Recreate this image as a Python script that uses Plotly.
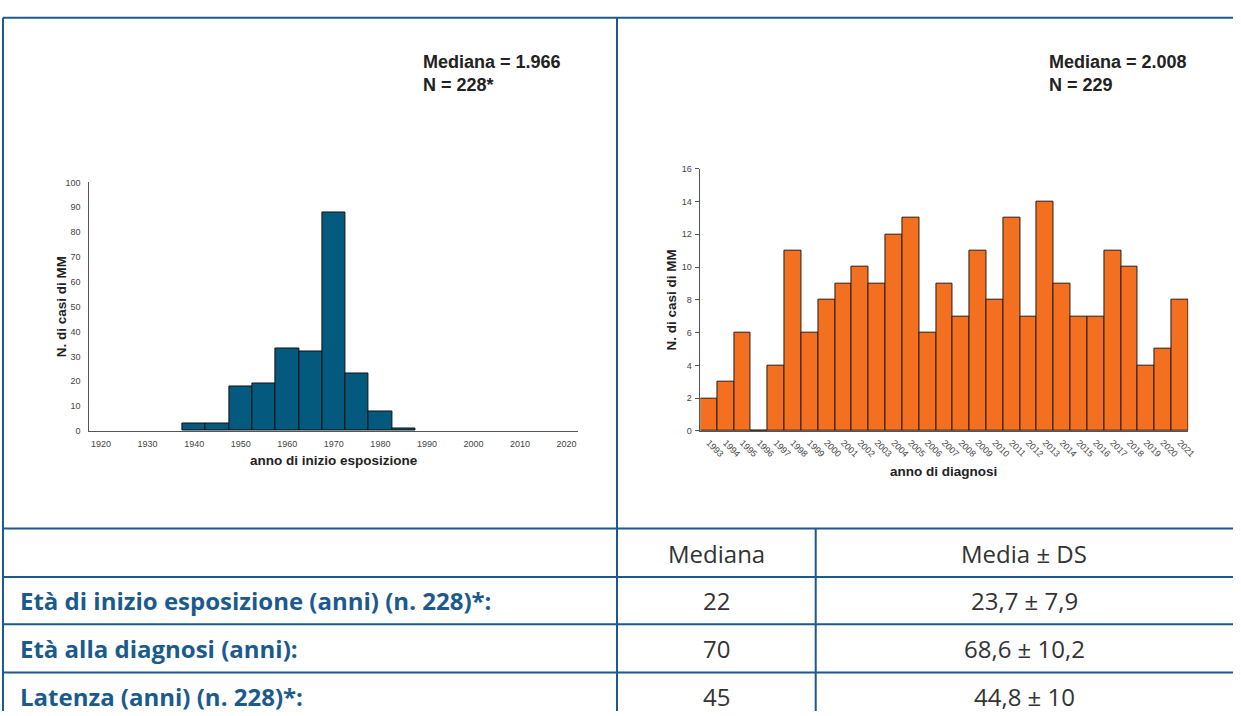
import plotly.graph_objects as go

# anno di inizio esposizione (5-year bins, centre of bin) -> N. casi
exposure_bins = [1940, 1945, 1950, 1955, 1960, 1965, 1970, 1975, 1980, 1985]
exposure_counts = [3, 3, 18, 19, 33, 32, 88, 23, 8, 1]

# anno di diagnosi -> N. casi
diagnosis_years = [str(y) for y in range(1993, 2022)]
diagnosis_counts = [2, 3, 6, 0, 4, 11, 6, 8, 9, 10, 9, 12, 13, 6, 9, 7,
                    11, 8, 13, 7, 14, 9, 7, 7, 11, 10, 4, 5, 8]

# tabella riassuntiva
row_labels = ["Età di inizio esposizione (anni) (n. 228)*:",
              "Età alla diagnosi (anni):",
              "Latenza (anni) (n. 228)*:"]
col_headers = ["Mediana", "Media ± DS"]
medians = ["22", "70", "45"]
means_sd = ["23,7 ± 7,9", "68,6 ± 10,2", "44,8 ± 10"]

W, H = 1241, 716
BLUE = "#1b5a8e"
AXIS = "#555555"
TICK = "#444444"


def px(x):
    return x / W


def py(y):
    return 1 - y / H


fig = go.Figure()

fig.add_trace(go.Bar(
    x=exposure_bins, y=exposure_counts, width=5,
    marker=dict(color="#045a7e", line=dict(color="#111111", width=1)),
    xaxis="x", yaxis="y", showlegend=False))

fig.add_trace(go.Bar(
    x=diagnosis_years, y=diagnosis_counts, width=1,
    marker=dict(color="#f37021", line=dict(color="#2a1a10", width=1)),
    xaxis="x2", yaxis="y2", showlegend=False))

tickfont = dict(family="Liberation Sans, Arial", size=9, color=TICK)
fig.update_layout(
    autosize=True,
    margin=dict(l=0, r=0, t=0, b=0),
    paper_bgcolor="white", plot_bgcolor="white",
    bargap=0,
    xaxis=dict(domain=[px(90), px(582)], anchor="y",
               range=[1917.5, 2022.5], tickvals=list(range(1920, 2021, 10)),
               showgrid=False, zeroline=False, showline=True,
               linecolor=AXIS, linewidth=1, ticks="",
               ticklabelstandoff=4, tickfont=tickfont),
    yaxis=dict(domain=[py(432), py(180)], anchor="x",
               range=[0, 100], dtick=10,
               showgrid=False, zeroline=False, showline=True,
               linecolor=AXIS, linewidth=1, ticks="",
               ticklabelstandoff=6, tickfont=tickfont),
    xaxis2=dict(domain=[px(705), px(1196)], anchor="y2",
                type="category", range=[-0.5, len(diagnosis_years) - 0.5],
                showgrid=False, zeroline=False, showline=True,
                linecolor=AXIS, linewidth=1, ticks="",
                tickangle=45, ticklabelstandoff=2, tickfont=tickfont),
    yaxis2=dict(domain=[py(432), py(166)], anchor="x2",
                range=[0, 16], dtick=2,
                showgrid=False, zeroline=False, showline=True,
                linecolor=AXIS, linewidth=1, ticks="outside",
                ticklen=4, tickcolor=AXIS,
                ticklabelstandoff=2, tickfont=tickfont),
)

title_font = dict(family="Liberation Sans, Arial", size=13.5, color="#222222")
note_font = dict(family="Liberation Sans, Arial", size=18, color="#222222")

annotations = [
    dict(x=px(336), y=py(462), text="<b>anno di inizio esposizione</b>", font=title_font),
    dict(x=px(62), y=py(306), text="<b>N. di casi di MM</b>", font=title_font, textangle=-90),
    dict(x=px(950), y=py(473), text="<b>anno di diagnosi</b>", font=title_font),
    dict(x=px(676), y=py(299), text="<b>N. di casi di MM</b>", font=title_font, textangle=-90),
    dict(x=px(424), y=py(69), text="<b>Mediana = 1.966<br>N = 228*</b>", font=note_font,
         xanchor="left", align="left"),
    dict(x=px(1054), y=py(69), text="<b>Mediana = 2.008<br>N = 229</b>", font=note_font,
         xanchor="left", align="left"),
]

# table text
cell_font = dict(family="Open Sans", size=24, color="#333333")
label_font = dict(family="Open Sans", size=24, color=BLUE)
annotations.append(dict(x=px(721), y=py(556), text=col_headers[0], font=cell_font))
annotations.append(dict(x=px(1031), y=py(556), text=col_headers[1], font=cell_font))
row_y = [604, 653, 701]
for lab, med, msd, ry in zip(row_labels, medians, means_sd, row_y):
    annotations.append(dict(x=px(18), y=py(ry), text="<b>%s</b>" % lab, font=label_font,
                            xanchor="left"))
    annotations.append(dict(x=px(721), y=py(ry), text=med, font=cell_font))
    annotations.append(dict(x=px(1031), y=py(ry), text=msd, font=cell_font))

for a in annotations:
    a.setdefault("xref", "paper")
    a.setdefault("yref", "paper")
    a.setdefault("showarrow", False)
    a.setdefault("xanchor", "center")
    a.setdefault("yanchor", "middle")
fig.update_layout(annotations=annotations)

# table borders
line = dict(color=BLUE, width=2)
shapes = [
    dict(x0=px(3), x1=1, y0=py(13), y1=py(13)),      # top
    dict(x0=px(3), x1=px(3), y0=py(13), y1=0),       # left border
    dict(x0=px(621), x1=px(621), y0=py(13), y1=0),   # middle divider
    dict(x0=px(821), x1=px(821), y0=py(531), y1=0),  # mediana | media
]
for hy in [531, 580, 628, 677]:
    shapes.append(dict(x0=px(3), x1=1, y0=py(hy), y1=py(hy)))
for s in shapes:
    s.update(type="line", xref="paper", yref="paper", line=line, layer="above")
fig.update_layout(shapes=shapes)

# fill the browser window exactly, no body margin / scrollbars
page_fix = (
    "var gd = document.getElementById('{plot_id}');"
    "var root = document.documentElement;"
    "root.style.height = '100%'; root.style.overflow = 'hidden';"
    "document.body.style.margin = '0';"
    "document.body.style.height = '100%';"
    "document.body.style.overflow = 'hidden';"
    "gd.parentElement.style.height = '100%';"
    "gd.style.width = '100%'; gd.style.height = '100%';"
    "Plotly.Plots.resize(gd);"
)
fig.write_html("out.html", config={"displayModeBar": False, "responsive": True},
               default_width="100%", default_height="100%", post_script=page_fix)
